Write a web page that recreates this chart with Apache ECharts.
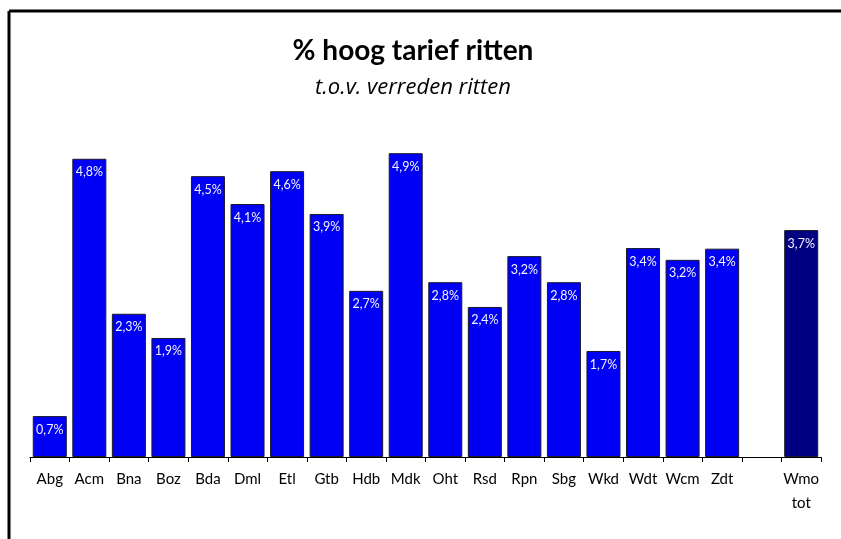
<!DOCTYPE html>
<html>
<head>
<meta charset="utf-8">
<script src="https://cdn.jsdelivr.net/npm/echarts@6/dist/echarts.min.js"></script>
<style>
  html, body { margin: 0; padding: 0; background: #fff; }
  #chart { width: 841px; height: 539px; }
</style>
</head>
<body>
<div id="chart"></div>
<script>
// categorieen (lege plek voor het totaal)
var categories = ['Abg','Acm','Bna','Boz','Bda','Dml','Etl','Gtb','Hdb','Mdk','Oht','Rsd','Rpn','Sbg','Wkd','Wdt','Wcm','Zdt','','Wmo\ntot'];
// percentage hoog tarief ritten
var values = [0.66,4.81,2.31,1.92,4.53,4.08,4.61,3.92,2.68,4.90,2.82,2.42,3.24,2.82,1.71,3.37,3.18,3.36,null,3.66];
var totalIndex = 19;

var myChart = echarts.init(document.getElementById('chart'));

var barData = values.map(function (v, i) {
    if (i === totalIndex) {
        return { value: v, itemStyle: { color: '#000080' } };
    }
    return v;
});

var option = {
    animation: false,
    title: [
        {
            text: '% hoog tarief ritten',
            left: 408, top: 32, textAlign: 'center',
            textStyle: { fontFamily: 'Lato', fontWeight: 'bold', fontSize: 28, color: '#000' }
        },
        {
            text: 't.o.v. verreden ritten',
            left: 408, top: 72, textAlign: 'center',
            textStyle: { fontFamily: 'Open Sans', fontStyle: 'italic', fontWeight: 'normal', fontSize: 22, color: '#000' }
        }
    ],
    graphic: [
        { type: 'line', shape: { x1: 9, y1: 11, x2: 841, y2: 11 }, style: { stroke: '#000', lineWidth: 3 } },
        { type: 'line', shape: { x1: 9, y1: 11, x2: 9, y2: 539 }, style: { stroke: '#000', lineWidth: 3 } }
    ],
    grid: { left: 30, right: 20, top: 147, bottom: 82 },
    xAxis: {
        type: 'category',
        data: categories,
        axisLine: { lineStyle: { color: '#000', width: 1 } },
        axisTick: { show: true, length: 5, lineStyle: { color: '#000' } },
        axisLabel: { interval: 0, fontFamily: 'Lato', fontSize: 15, color: '#000', margin: 10, lineHeight: 24 }
    },
    yAxis: {
        type: 'value', min: 0, max: 5,
        show: false,
        splitLine: { show: false }
    },
    series: [{
        type: 'bar',
        data: barData,
        barCategoryGap: '14%',
        itemStyle: { color: '#0000F5', borderColor: '#1a1a2a', borderWidth: 1 },
        label: {
            show: true,
            position: 'insideTop',
            distance: 7,
            color: '#f4f4ff',
            fontFamily: 'Lato',
            fontSize: 12.5,
            formatter: function (p) {
                return p.value.toFixed(1).replace('.', ',') + '%';
            }
        }
    }]
};

myChart.setOption(option);
</script>
</body>
</html>
